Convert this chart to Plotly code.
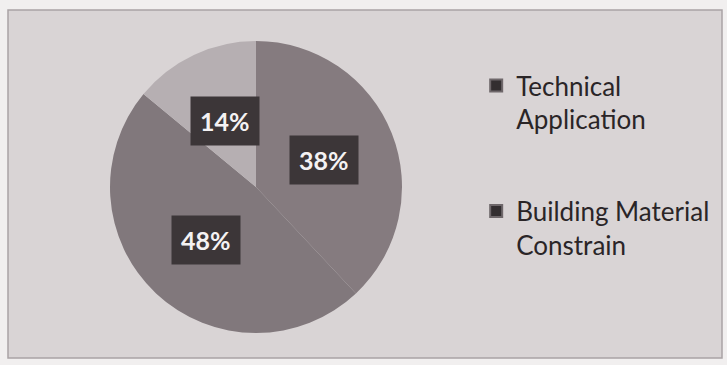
import math
import plotly.graph_objects as go

categories = ["Technical Application", "Building Material Constrain", "Other"]
legend_labels = ["Technical<br>Application", "Building Material<br>Constrain"]
values = [38, 48, 14]
pct_labels = ["38%", "48%", "14%"]

slice_colors = ["#857b7f", "#81787c", "#b6afb2"]
W, H = 727, 365

# pie geometry (pixels)
cx_px, cy_px, r_px = 256, 187, 146
dom_x = [(cx_px - r_px) / W, (cx_px + r_px) / W]
dom_y = [(H - cy_px - r_px) / H, (H - cy_px + r_px) / H]

fig = go.Figure()
fig.add_trace(go.Pie(
    labels=categories, values=values, sort=False, direction="clockwise",
    rotation=0, textinfo="none", showlegend=False, hoverinfo="label+percent",
    marker=dict(colors=slice_colors, line=dict(color="#3a3335", width=0)),
    domain=dict(x=dom_x, y=dom_y),
))

# outline circle
fig.add_shape(type="circle", xref="paper", yref="paper",
              x0=dom_x[0], x1=dom_x[1], y0=dom_y[0], y1=dom_y[1],
              line=dict(color="#3a3335", width=2.5), layer="above")

# percentage labels at half radius along each slice's mid-angle
total = sum(values)
cum = 0
for v, t in zip(values, pct_labels):
    mid = (cum + v / 2) / total * 2 * math.pi
    cum += v
    x = (cx_px + 0.5 * r_px * math.sin(mid)) / W
    y = (H - cy_px + 0.5 * r_px * math.cos(mid)) / H
    fig.add_annotation(x=x, y=y, xref="paper", yref="paper", text="<b>" + t + "</b>",
                       xanchor="center", yanchor="middle",
                       showarrow=False, bgcolor="#3c3638", borderpad=9,
                       font=dict(family="Lato", size=25, color="#f4f2f3"))

# legend entries (only first two categories shown in reference)
for i, lab in enumerate(legend_labels):
    fig.add_trace(go.Scatter(
        x=[None], y=[None], mode="markers", name=lab, legendgroup=str(i),
        marker=dict(symbol="square", size=15, color="#332e30",
                    line=dict(color="#6e676a", width=1)),
    ))

fig.update_layout(
    width=W, height=H, margin=dict(l=0, r=0, t=0, b=0),
    paper_bgcolor="#f1efef", plot_bgcolor="rgba(0,0,0,0)",
    xaxis=dict(visible=False), yaxis=dict(visible=False),
    legend=dict(x=0.655, y=0.83, xanchor="left", yanchor="top",
                bgcolor="rgba(0,0,0,0)", tracegroupgap=55, itemsizing="constant",
                font=dict(family="Lato", size=26, color="#2a2527"), valign="top"),
    shapes=[dict(type="rect", xref="paper", yref="paper", x0=8 / W, x1=722 / W,
                 y0=(H - 358) / H, y1=(H - 10) / H, fillcolor="#d9d4d5",
                 line=dict(color="#a9a3a5", width=1.5), layer="below")],
)

fig.write_html("out.html")
